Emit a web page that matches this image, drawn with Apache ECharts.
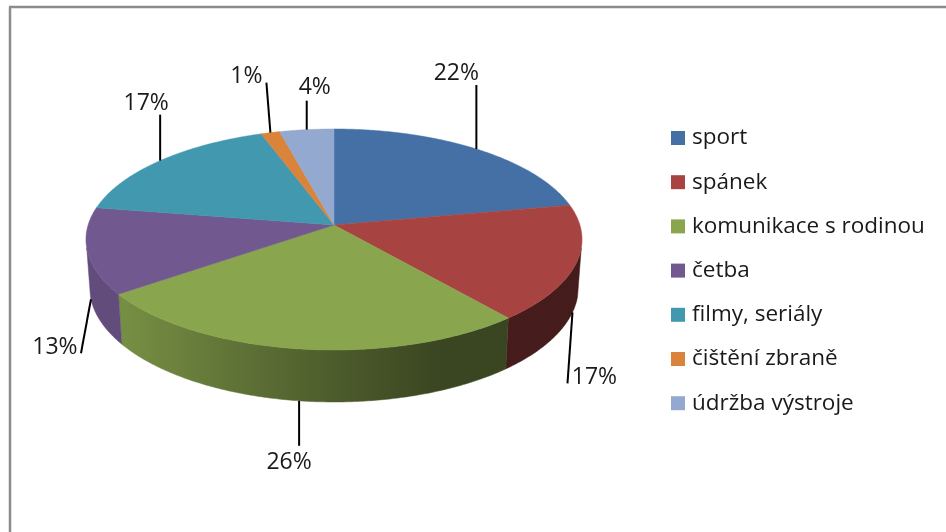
<!DOCTYPE html>
<html>
<head>
<meta charset="utf-8">
<style>
  html, body { margin: 0; padding: 0; background: #fff; }
  #chart { width: 946px; height: 532px; }
</style>
<script src="https://cdn.jsdelivr.net/npm/echarts@6/dist/echarts.min.js"></script>
</head>
<body>
<div id="chart"></div>
<script>
  var categories = ["sport", "spánek", "komunikace s rodinou", "četba", "filmy, seriály", "čištění zbraně", "údržba výstroje"];
  var values = [22, 17, 26, 12.6, 17, 1.4, 4];
  var colors = ["#4470a5", "#a74442", "#89a54e", "#71588f", "#4198af", "#d9833b", "#93a9cf"];

  // leader line end relative to its rim anchor, then label centre relative to that end
  var leaderEnds = [[0, -64], [-5, 71], [0, 45], [-10, 54], [0, -46], [-4, -50], [0, -29]];
  var labelShifts = [[-20, -12], [27, -6], [-10, 17], [-26, -6], [-14, -11], [-20, -6], [8, -13]];

  // wall darkening along x, the light comes from the left
  var wallShade = [[0, 0.86], [0.08, 0.86], [0.3, 0.7], [0.5, 0.56], [0.7, 0.43], [1, 0.41]];

  var FONT = '"Open Sans", "Noto Sans", sans-serif';

  // tilted disc: homography of the unit circle, apex at cx, cy
  var PIE = { cx: 334, cy: 225, a: 245.9, b: 108.6, k: 0.131, depth: 47.5, shrinkX: 0.985, stretchY: 1.036 };

  // part of the rim whose wall faces the viewer, in radians clockwise from the top
  var WALL_FROM = 102 * Math.PI / 180;
  var WALL_TO = 258 * Math.PI / 180;

  var total = values.reduce(function (s, v) { return s + v; }, 0);

  function cumulative(index) {
    var sum = 0;
    for (var i = 0; i < index; i++) {
      sum += values[i];
    }
    return sum;
  }

  function rimTop(theta) {
    var X = Math.sin(theta), Z = Math.cos(theta), w = 1 + PIE.k * Z;
    return [PIE.cx + PIE.a * X / w, PIE.cy - PIE.b * Z / w];
  }

  function rimBottom(theta) {
    var p = rimTop(theta);
    return [
      PIE.cx + (p[0] - PIE.cx) * PIE.shrinkX,
      PIE.cy + (p[1] - PIE.cy) * PIE.stretchY + PIE.depth
    ];
  }

  function sliceAngles(index) {
    var from = cumulative(index) / total * Math.PI * 2;
    var to = from + values[index] / total * Math.PI * 2;
    return [from, to];
  }

  function sample(from, to, fn) {
    var steps = Math.max(2, Math.ceil((to - from) / 0.01));
    var pts = [];
    for (var i = 0; i <= steps; i++) {
      pts.push(fn(from + (to - from) * i / steps));
    }
    return pts;
  }

  function shade(hex, factor) {
    var n = parseInt(hex.slice(1), 16);
    var r = Math.round((n >> 16 & 255) * factor);
    var g = Math.round((n >> 8 & 255) * factor);
    var b = Math.round((n & 255) * factor);
    return "rgb(" + r + "," + g + "," + b + ")";
  }

  function wallFill(hex) {
    return {
      type: "linear", global: true, x: 86, y: 0, x2: 582, y2: 0,
      colorStops: wallShade.map(function (s) {
        return { offset: s[0], color: shade(hex, s[1]) };
      })
    };
  }

  function renderWall(params, api) {
    var index = api.value(0);
    var range = sliceAngles(index);
    var from = Math.max(range[0], WALL_FROM);
    var to = Math.min(range[1], WALL_TO);
    if (from >= to) {
      return null;
    }
    var top = sample(from, to, rimTop);
    var bottom = sample(from, to, rimBottom).reverse();
    return {
      type: "polygon",
      shape: { points: top.concat(bottom) },
      style: { fill: wallFill(colors[index]), stroke: wallFill(colors[index]), lineWidth: 0.5 }
    };
  }

  function makeTopRenderer(index) {
    return function () {
      var range = sliceAngles(index);
      var mid = (range[0] + range[1]) / 2;
      var pts = [[PIE.cx, PIE.cy]].concat(sample(range[0], range[1], rimTop));
      // front leaders start at the foot of the wall
      var anchor = Math.cos(mid) < 0 ? rimBottom(mid) : rimTop(mid);
      var end = [anchor[0] + leaderEnds[index][0], anchor[1] + leaderEnds[index][1]];
      return {
        type: "group",
        children: [
          {
            type: "polygon",
            shape: { points: pts },
            style: { fill: colors[index], stroke: colors[index], lineWidth: 0.5 }
          },
          {
            type: "line",
            shape: { x1: anchor[0], y1: anchor[1], x2: end[0], y2: end[1] },
            style: { stroke: "#000", lineWidth: 2 }
          },
          {
            type: "text",
            style: {
              text: Math.round(values[index] / total * 100) + "%",
              x: end[0] + labelShifts[index][0],
              y: end[1] + labelShifts[index][1],
              align: "center",
              verticalAlign: "middle",
              fill: "#1a1a1a",
              font: "23px " + FONT
            }
          }
        ]
      };
    };
  }

  var series = [{
    type: "custom",
    name: "walls",
    coordinateSystem: "none",
    z: 1,
    renderItem: renderWall,
    data: values.map(function (v, i) { return [i, v]; })
  }];

  categories.forEach(function (name, i) {
    series.push({
      type: "custom",
      name: name,
      coordinateSystem: "none",
      z: 2,
      itemStyle: { color: colors[i] },
      renderItem: makeTopRenderer(i),
      data: [[values[i]]]
    });
  });

  var chart = echarts.init(document.getElementById("chart"), null, { renderer: "canvas" });

  chart.setOption({
    animation: false,
    backgroundColor: "#fff",
    color: colors,
    legend: {
      data: categories,
      orient: "vertical",
      left: 666,
      top: 121,
      icon: "rect",
      itemWidth: 14,
      itemHeight: 14,
      itemGap: 20.2,
      selectedMode: false,
      textStyle: { fontFamily: FONT, fontSize: 22.5, lineHeight: 24, color: "#1a1a1a", padding: [0, 0, 0, 2] }
    },
    graphic: [
      { type: "line", silent: true, shape: { x1: 9, y1: 7, x2: 946, y2: 7 }, style: { stroke: "#8c8c8c", lineWidth: 2.5 } },
      { type: "line", silent: true, shape: { x1: 10, y1: 7, x2: 10, y2: 532 }, style: { stroke: "#8c8c8c", lineWidth: 2.5 } }
    ],
    series: series
  });
</script>
</body>
</html>
